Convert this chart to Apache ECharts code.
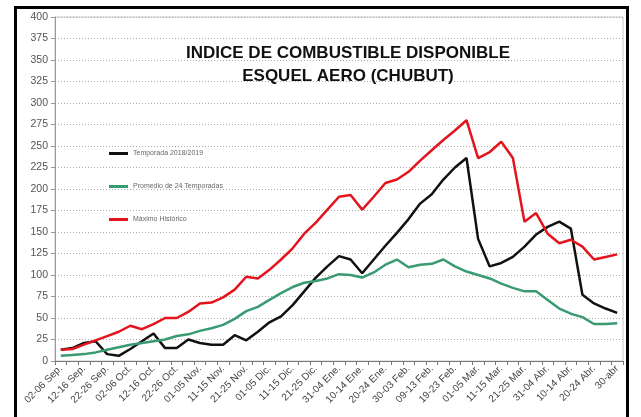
<!DOCTYPE html>
<html>
<head>
<meta charset="utf-8">
<script src="https://cdn.jsdelivr.net/npm/echarts@6/dist/echarts.min.js"></script>
<style>
html,body{margin:0;padding:0;background:#fff;}
#c{width:641px;height:417px;}
</style>
</head>
<body>
<div id="c"></div>
<script>
var categories = ['02-06 Sep.','07-11 Sep.','12-16 Sep.','17-21 Sep.','22-26 Sep.','27-01 Oct.','02-06 Oct.','07-11 Oct.','12-16 Oct.','17-21 Oct.','22-26 Oct.','27-31 Oct.','01-05 Nov.','06-10 Nov.','11-15 Nov.','16-20 Nov.','21-25 Nov.','26-30 Nov.','01-05 Dic.','06-10 Dic.','11-15 Dic.','16-20 Dic.','21-25 Dic.','26-30 Dic.','31-04 Ene.','05-09 Ene.','10-14 Ene.','15-19 Ene.','20-24 Ene.','25-29 Ene.','30-03 Feb.','04-08 Feb.','09-13 Feb.','14-18 Feb.','19-23 Feb.','24-28 Feb.','01-05 Mar.','06-10 Mar.','11-15 Mar.','16-20 Mar.','21-25 Mar.','26-30 Mar.','31-04 Abr.','05-09 Abr.','10-14 Abr.','15-19 Abr.','20-24 Abr.','25-29 Abr.','30-abr'];
var temporada = [13,15,21,23,8,6,14,23,32,15,15,25,21,19,19,30,24,34,45,52,65,81,97,110,122,118,102,118,134,149,165,183,194,211,225,236,142,110,114,121,133,147,156,162,154,77,67,61,56];
var promedio = [6,7,8,10,13,16,19,21,23,25,29,31,35,38,42,49,58,63,71,79,86,91,93,96,101,100,97,103,112,118,109,112,113,118,110,104,100,96,90,85,81,81,71,61,55,51,43,43,44];
var maximo = [13,14,19,24,29,34,41,37,43,50,50,57,67,68,74,83,98,96,106,118,131,148,161,176,191,193,176,191,207,211,220,233,245,257,268,280,236,243,255,236,162,172,148,137,141,133,118,121,124];
var seriesNames = ['Temporada 2018/2019','Promedio de 24 Temporadas','Máximo Histórico'];
var titleLines = ['INDICE DE COMBUSTIBLE DISPONIBLE','ESQUEL AERO (CHUBUT)'];

var chart = echarts.init(document.getElementById('c'));
var font = '"Liberation Sans", Arial, sans-serif';
function mk(name, data, color){
  return {name:name,type:'line',data:data,symbol:'none',showSymbol:false,smooth:false,
    lineStyle:{color:color,width:2.5},itemStyle:{color:color},z:3};
}
chart.setOption({
  animation:false,
  backgroundColor:'#fff',
  title:{text:titleLines.join('\n'),left:343,top:37,textAlign:'center',
    textStyle:{fontFamily:font,fontSize:17,fontWeight:'bold',color:'#111',lineHeight:23}},
  legend:{orient:'vertical',left:109,top:150,padding:0,icon:'rect',itemWidth:19,itemHeight:3,itemGap:26,
    textStyle:{fontFamily:font,fontSize:7,color:'#666'},data:seriesNames},
  grid:{left:55,right:18,top:17,bottom:56,show:true,borderColor:'#c8c8c8',borderWidth:1},
  xAxis:{type:'category',data:categories,boundaryGap:true,
    axisLine:{lineStyle:{color:'#777',width:1}},
    axisTick:{show:true,interval:0,length:4,lineStyle:{color:'#777'}},
    axisLabel:{interval:1,rotate:45,fontFamily:font,fontSize:10,color:'#444',margin:6},
    splitLine:{show:false}},
  yAxis:{type:'value',min:0,max:400,interval:25,
    axisLine:{show:true,lineStyle:{color:'#999'}},
    axisTick:{show:true,length:4,lineStyle:{color:'#999'}},
    axisLabel:{fontFamily:font,fontSize:10.5,color:'#555',margin:7},
    splitLine:{show:true,lineStyle:{color:'#aaa',type:[1,2],width:1}}},
  graphic:[{type:'rect',shape:{x:15.5,y:7.5,width:612,height:430},
    style:{fill:null,stroke:'#000',lineWidth:3},z:10}],
  series:[mk(seriesNames[0],temporada,'#111111'),mk(seriesNames[1],promedio,'#3a9a72'),mk(seriesNames[2],maximo,'#e3141e')]
});
</script>
</body>
</html>
